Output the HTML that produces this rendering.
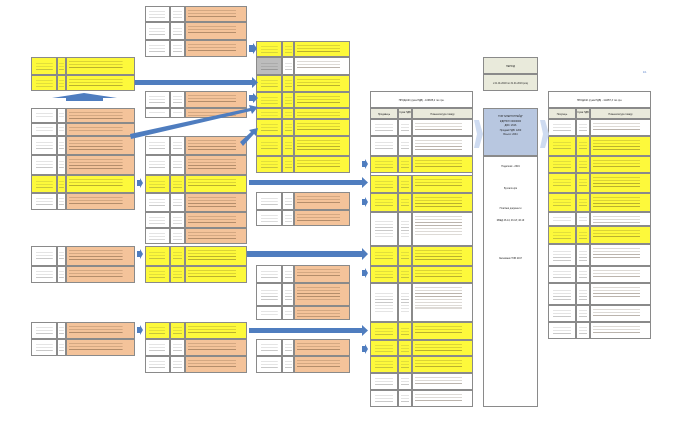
<!DOCTYPE html>
<html><head><meta charset="utf-8">
<style>
body{margin:0;width:700px;height:424px;background:#fff;position:relative;overflow:hidden;font-family:"Liberation Sans","Noto Sans CJK SC",sans-serif}
.c{position:absolute;box-sizing:border-box;border:0.6px solid #8a8a8a;font-size:2px;color:#333;overflow:hidden}
.t{background-image:repeating-linear-gradient(to bottom,transparent 0,transparent 1.4px,rgba(60,40,20,.35) 1.4px,rgba(60,40,20,.35) 2.1px,transparent 2.1px,transparent 2.9px);background-size:80% 65%;background-repeat:no-repeat;background-position:2px 2px}
.s{background-image:repeating-linear-gradient(to bottom,transparent 0,transparent 1.4px,rgba(60,60,60,.28) 1.4px,rgba(60,60,60,.28) 2.1px,transparent 2.1px,transparent 2.9px);background-size:70% 55%;background-repeat:no-repeat;background-position:center}
.hd{position:absolute;font-size:2.4px;text-align:center;color:#222}
</style></head><body>
<div id="d"></div>
<svg width="700" height="424" style="position:absolute;left:0;top:0">
<g fill="#4f7dbf">
<polygon points="249,45 253,45 253,43 257,48.5 253,54 253,52 249,52"/>
<polygon points="135,80 252,80 252,77 258,82.5 252,88 252,85 135,85"/>
<polygon points="249,95 253,95 253,93 258,98 253,103 253,101 249,101"/>
<polygon points="130,134 250,108 249,105 258,107 252,114 251,111 131,139"/>
<polygon points="240,142 251,132 249,130 258,128 256,136 254,134 243,146"/>
<polygon points="137,180 140,180 140,178 143,183 140,188 140,186 137,186"/>
<polygon points="249,180 362,180 362,177 368,182.5 362,188 362,185 249,185"/>
<polygon points="362,161 365,161 365,159 368,164 365,169 365,167 362,167"/>
<polygon points="362,199 365,199 365,197 368,202 365,207 365,205 362,205"/>
<polygon points="137,251 140,251 140,249 143,254 140,259 140,257 137,257"/>
<polygon points="247,251 362,251 362,248 368,254 362,260 362,257 247,257"/>
<polygon points="362,270 365,270 365,268 368,273 365,278 365,276 362,276"/>
<polygon points="137,327 140,327 140,325 143,330 140,335 140,333 137,333"/>
<polygon points="249,328 362,328 362,325 368,330.5 362,336 362,333 249,333"/>
<polygon points="362,346 365,346 365,344 368,349 365,354 365,352 362,352"/>
<polygon points="52,98 84,93 117,98 103,98 103,101 66,101 66,98"/>
</g>
<g fill="#c9d7f0" opacity=".9">
<polygon points="474,120 479,120 483,134 479,148 474,148 477,134"/>
<polygon points="540,120 545,120 549,134 545,148 540,148 543,134"/>
</g>
<text x="643" y="73" font-size="2.5" fill="#4472c4" font-family="Liberation Sans">1/1</text>
</svg>
<script>
var d=document.getElementById('d'),h='';
var Y='#fdf93b',O='#f4c39a',W='#fff',G='#bdbdbd';
function c(x,y,w,hh,bg,cl,txt){h+='<div class="c '+(cl||'')+'" style="left:'+x+'px;top:'+y+'px;width:'+w+'px;height:'+hh+'px;background-color:'+bg+'">'+(txt||'')+'</div>';}
function T(x,a,b,e,rows){rows.forEach(function(r){var y=r[0],hh=r[1]-r[0],t=r[2];
var l=t=='y'?Y:W,m=t=='y'?Y:W,rt=t=='o'?O:(t=='y'?Y:W);if(t=='g'){l=G;}
c(x,y,a-x,hh,l,'s');c(a,y,b-a,hh,m,'s');c(b,y,e-b,hh,rt,'t');});}
T(145,170,185,247,[[6,22,'o'],[22,40,'o'],[40,57,'o']]);
T(31,57,66,135,[[57,75,'y'],[75,91,'y']]);
T(31,57,66,135,[[108,123,'o'],[123,136,'o'],[136,155,'o'],[155,175,'o']]);
T(256,282,294,350,[[41,57,'y'],[57,75,'g'],[75,92,'y'],[92,108,'y'],[108,119,'y'],[119,136,'y'],[136,156,'y'],[156,173,'y']]);
T(145,170,185,247,[[91,108,'o'],[108,118,'o']]);
T(145,170,185,247,[[136,155,'o'],[155,175,'o']]);
T(31,57,66,135,[[175,193,'y'],[193,210,'o']]);
T(145,170,185,247,[[175,193,'y'],[193,212,'o'],[212,228,'o'],[228,244,'o']]);
T(256,282,294,350,[[192,210,'o'],[210,226,'o']]);
T(31,57,66,135,[[246,266,'o'],[266,283,'o']]);
T(145,170,185,247,[[246,266,'y'],[266,283,'y']]);
T(256,282,294,350,[[265,283,'o'],[283,306,'o'],[306,320,'o']]);
T(31,57,66,135,[[322,339,'o'],[339,356,'o']]);
T(145,170,185,247,[[322,339,'y'],[339,356,'o'],[356,373,'o']]);
T(256,282,294,350,[[339,356,'o'],[356,373,'o']]);
c(370,91,103,316,W,'');
c(370,91,103,17,W,'','<div class="hd" style="width:100%;top:7px">ПРОДАЖІ (сума ПДВ) - 109835,2 тис.грн.</div>');
c(370,108,28,11,'#eaeadc','','<div class="hd" style="width:100%;top:4px">Продавець</div>');c(398,108,14,11,'#eaeadc','','<div class="hd" style="width:100%;top:2px">Сума ПДВ</div>');c(412,108,61,11,'#eaeadc','','<div class="hd" style="width:100%;top:4px">Номенклатура товару</div>');
T(370,398,412,473,[[119,136,'w'],[136,156,'w'],[156,173,'y'],[175,193,'y'],[193,212,'y'],[212,246,'w'],[246,266,'y'],[266,283,'y'],[283,322,'w'],[322,340,'y'],[340,356,'y'],[356,373,'y'],[373,390,'w'],[390,407,'w']]);
c(483,57,55,17,'#e9eadb','','<div class="hd" style="width:100%;top:7px">ПЕРІОД</div>');
c(483,74,55,17,'#e9eadb','','<div class="hd" style="width:100%;top:7px">з 01.01.2018 по 31.01.2019 року</div>');
c(483,108,55,48,'#b8c7e0','','<div class="hd" style="width:100%;top:6px;line-height:4.5px">ТОВ "ЕНЕРГОТРЕЙД"<br>ЄДРПОУ 00000000<br>ДФС: 2616<br>Продажі ПДВ: 1200<br>Всього: 2034</div>');
c(483,156,55,251,W,'','<div class="hd" style="width:100%;top:8px">Податкові - 2619</div><div class="hd" style="width:100%;top:30px">Бухгалтерія</div><div class="hd" style="width:100%;top:50px">Платіжні документи</div><div class="hd" style="width:100%;top:62px">КВЕД 46.14; 46.18; 46.19</div><div class="hd" style="width:100%;top:100px">Засновник ТОВ 2017</div>');
c(548,91,103,248,W,'');
c(548,91,103,17,W,'','<div class="hd" style="width:100%;top:7px">ПРОДАЖІ (сума ПДВ) - 111957,3 тис.грн.</div>');
c(548,108,28,11,'#eaeadc','','<div class="hd" style="width:100%;top:4px">Покупець</div>');c(576,108,14,11,'#eaeadc','','<div class="hd" style="width:100%;top:2px">Сума ПДВ</div>');c(590,108,61,11,'#eaeadc','','<div class="hd" style="width:100%;top:4px">Номенклатура товару</div>');
T(548,576,590,651,[[119,136,'w'],[136,156,'y'],[156,173,'y'],[173,193,'y'],[193,212,'y'],[212,226,'w'],[226,244,'y'],[244,266,'w'],[266,283,'w'],[283,305,'w'],[305,322,'w'],[322,339,'w']]);
d.innerHTML=h;
</script>
</body></html>
